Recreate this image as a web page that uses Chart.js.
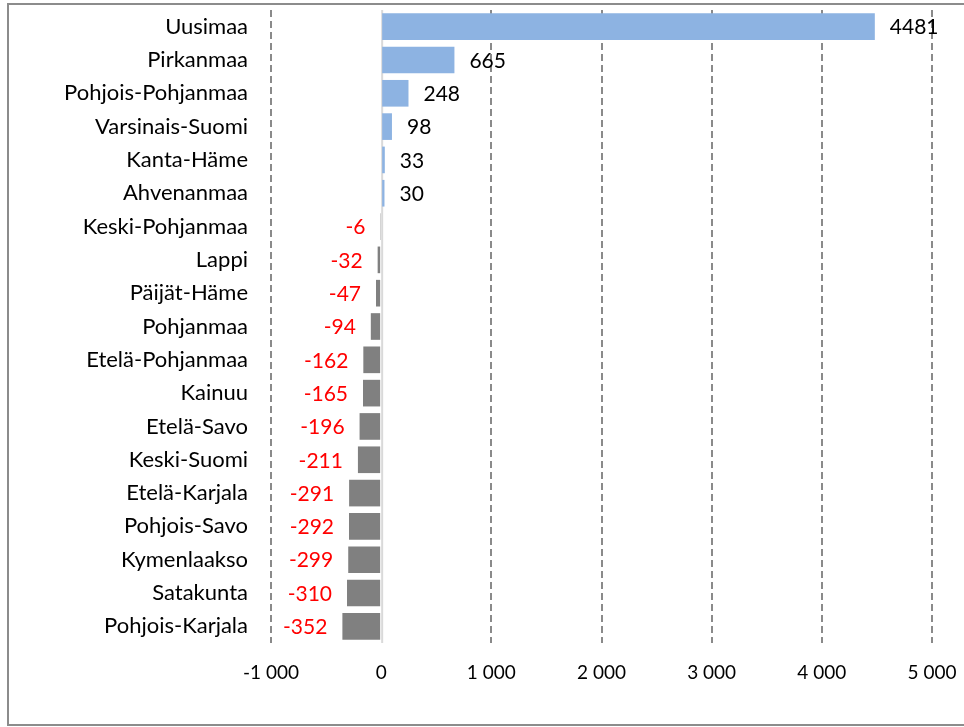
<!DOCTYPE html>
<html>
<head>
<meta charset="utf-8">
<script src="https://cdn.jsdelivr.net/npm/chart.js@4/dist/chart.umd.min.js"></script>
<style>
  body { margin: 0; background: #fff; }
  #wrap { position: absolute; left: 0; top: 0; width: 964px; height: 727px; }
</style>
</head>
<body>
<div id="wrap"><canvas id="myChart" width="964" height="727"></canvas></div>
<script>
// maakunnat ja muutos
const regions = ['Uusimaa', 'Pirkanmaa', 'Pohjois-Pohjanmaa', 'Varsinais-Suomi', 'Kanta-Häme',
  'Ahvenanmaa', 'Keski-Pohjanmaa', 'Lappi', 'Päijät-Häme', 'Pohjanmaa', 'Etelä-Pohjanmaa',
  'Kainuu', 'Etelä-Savo', 'Keski-Suomi', 'Etelä-Karjala', 'Pohjois-Savo', 'Kymenlaakso',
  'Satakunta', 'Pohjois-Karjala'];
const change = [4481, 665, 248, 98, 33, 30, -6, -32, -47, -94, -162, -165, -196, -211, -291, -292, -299, -310, -352];

const xMin = -1000;
const xMax = 5000;
const xStep = 1000;

const FONT = 'Lato, "Noto Sans", sans-serif';

// kehys
const framePlugin = {
  id: 'frame',
  beforeDraw(chart) {
    const c = chart.ctx;
    c.save();
    c.strokeStyle = '#8c8c8c';
    c.lineWidth = 2;
    c.strokeRect(8, 4, 1000, 721);
    c.restore();
  }
};

// nollaviiva
const zeroLine = {
  id: 'zeroLine',
  beforeDatasetsDraw(chart) {
    const c = chart.ctx;
    const x = chart.scales.x.getPixelForValue(0);
    c.save();
    c.strokeStyle = '#d9d9d9';
    c.lineWidth = 2;
    c.beginPath();
    c.moveTo(x + 1, chart.chartArea.top);
    c.lineTo(x + 1, chart.chartArea.bottom);
    c.stroke();
    c.restore();
  }
};

// arvot palkkien viereen
const valueLabels = {
  id: 'valueLabels',
  afterDatasetsDraw(chart) {
    const c = chart.ctx;
    const meta = chart.getDatasetMeta(0);
    c.save();
    c.font = '21px ' + FONT;
    c.textBaseline = 'middle';
    meta.data.forEach((bar, i) => {
      const v = change[i];
      if (v >= 0) {
        c.fillStyle = '#000';
        c.textAlign = 'left';
        c.fillText(String(v), bar.x + 15, bar.y + 1);
      } else {
        c.fillStyle = '#ff0000';
        c.textAlign = 'right';
        c.fillText(String(v), bar.x - 15, bar.y + 1);
      }
    });
    c.restore();
  }
};

const ctx = document.getElementById('myChart').getContext('2d');
const myChart = new Chart(ctx, {
  type: 'bar',
  data: {
    labels: regions,
    datasets: [{
      data: change,
      backgroundColor: change.map(v => v >= 0 ? '#8db3e2' : '#808080'),
      barPercentage: 0.8,
      categoryPercentage: 1.0
    }]
  },
  options: {
    indexAxis: 'y',
    responsive: false,
    animation: false,
    layout: { padding: { left: 0, right: 32, top: 10, bottom: 0 } },
    plugins: {
      legend: { display: false },
      tooltip: { enabled: false }
    },
    scales: {
      x: {
        min: xMin,
        max: xMax,
        afterFit(scale) {
          scale.height = 84;
          scale.paddingLeft = 0;
          scale.paddingRight = 0;
        },
        afterBuildTicks(scale) {
          const t = [];
          for (let v = xMin; v <= xMax; v += xStep) t.push({ value: v });
          scale.ticks = t;
        },
        grid: {
          drawTicks: false,
          color: c => c.tick && c.tick.value === 0 ? 'rgba(0,0,0,0)' : '#8a8a8a',
          lineWidth: 2
        },
        border: { display: false, dash: [7, 4] },
        ticks: {
          padding: 18,
          color: '#000',
          font: { family: FONT, size: 19 },
          callback: v => v === 0 ? '0' : (v < 0 ? '-' : '') + Math.abs(v / 1000) + ' 000'
        }
      },
      y: {
        afterFit(scale) {
          scale.width = 271;
          scale.paddingTop = 0;
          scale.paddingBottom = 0;
        },
        grid: { display: false, drawTicks: false },
        border: { display: false },
        ticks: {
          padding: 23,
          color: '#000',
          font: { family: FONT, size: 22 }
        }
      }
    }
  },
  plugins: [framePlugin, zeroLine, valueLabels]
});
</script>
</body>
</html>
